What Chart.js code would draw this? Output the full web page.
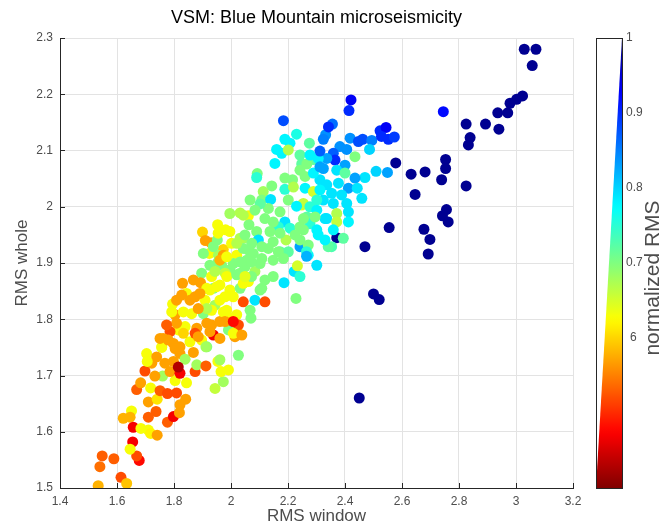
<!DOCTYPE html>
<html>
<head>
<meta charset="utf-8">
<script src="https://cdn.jsdelivr.net/npm/chart.js@4/dist/chart.umd.min.js"></script>
<style>
html,body{margin:0;padding:0;background:#fff;}
canvas{display:block;}
</style>
</head>
<body>
<canvas id="c" width="659" height="525" style="width:659px;height:525px"></canvas>
<script>
// ---- data (x = RMS window, y = RMS whole, c = normalized RMS) ----
const pointsX = [
3.029,3.070,3.057,3.023,3.002,2.979,2.971,2.936,2.825,2.893,2.940,2.839,2.833,2.578,2.632,2.681,2.753,2.753,2.739,2.825,2.646,2.756,2.742,2.762,2.555,2.677,2.698,2.692,2.371,2.470,2.500,2.520,2.450,
2.745,
2.421,2.414,2.356,2.332,2.324,2.418,2.447,2.462,2.494,2.523,2.544,2.528,2.552,2.573,2.486,2.382,2.406,2.435,2.359,2.365,2.336,2.400,2.371,2.509,2.549,2.470,2.435,2.400,2.312,2.336,2.377,2.412,2.443,2.353,2.388,2.459,2.324,2.359,2.406,2.248,2.412,2.371,2.336,2.266,2.394,2.353,2.260,
2.184,2.230,2.189,2.207,2.160,2.178,2.201,2.275,2.242,2.248,2.289,2.092,2.090,2.189,2.216,2.260,2.143,2.189,2.219,2.260,2.289,2.113,2.108,2.139,2.201,2.254,2.230,2.131,2.172,2.277,2.189,2.166,2.207,2.242,2.277,2.330,2.043,2.148,2.193,2.242,2.271,2.201,2.172,2.271,2.341,
2.265,2.301,2.265,2.222,2.242,2.186,2.233,2.228,2.026,2.014,2.020,
1.996,2.032,2.061,2.102,1.953,1.981,2.063,2.090,1.930,1.952,1.973,2.002,2.032,2.096,1.924,1.956,2.020,2.061,2.108,1.926,1.967,1.996,2.049,2.084,1.897,1.830,1.868,1.893,1.844,1.874,1.909,1.938,1.961,1.996,2.032,2.061,2.084,2.043,2.119,2.108,1.795,1.804,1.833,1.862,1.903,1.944,1.985,2.020,2.070,2.026,2.002,1.991,1.932,1.938,1.880,1.839,1.815,1.786,1.762,1.757,1.798,1.856,1.897,1.915,2.014,
1.534,1.614,1.634,1.540,1.548,1.589,1.678,1.669,1.655,1.646,1.622,1.651,1.646,1.657,1.684,1.710,1.718,1.741,1.710,1.737,1.777,1.798,1.819,1.821,1.710,1.741,1.669,1.683,1.718,1.751,1.777,1.809,1.841,1.844,1.804,1.760,1.786,1.733,1.698,1.722,1.704,1.757,1.739,1.768,1.798,1.821,1.839,1.821,1.874,1.880,1.912,1.868,1.912,1.944,1.954,
1.900,1.910,
1.815,1.706,1.751,1.804,1.961,1.973,1.991,1.965,1.792,1.926,1.961,1.973,2.008,2.038,1.961,1.932,1.874,
1.903,2.043,2.078,2.131,2.166,1.955,2.008,2.055,2.102,2.148,2.184,1.932,1.979,2.032,2.072,2.119,2.148,1.950,2.043,2.102,2.008,1.915,1.973,2.067,1.979,2.008,
2.154,2.324,2.306,2.342,2.301,2.301,2.295,2.254,2.148,2.119,2.137,2.172,2.225,2.306,2.330,
2.242,2.289,2.312,2.266,2.312,2.277,2.312,2.254,2.301,2.242,2.371,2.412,2.359,
1.955,1.996,2.020,2.049,2.073,2.108,1.938,1.961,1.985,2.032,2.072,1.944,1.985,2.020,2.049,1.915,1.891,1.856,1.827,1.809,1.885,1.979,1.915,1.809,1.774,1.833,1.885,1.926,1.961,1.780,1.821,
2.067,2.043,2.084
];
const pointsY = [
2.280,2.280,2.251,2.197,2.191,2.184,2.167,2.167,2.147,2.147,2.138,2.123,2.110,2.078,2.058,2.062,2.084,2.068,2.048,2.037,2.022,1.995,1.984,1.973,1.963,1.960,1.942,1.916,1.945,1.929,1.845,1.835,1.660,
2.169,
2.190,2.171,2.147,2.128,2.120,2.122,2.116,2.120,2.118,2.135,2.141,2.125,2.120,2.124,2.102,2.107,2.102,2.089,2.095,2.083,2.086,2.074,2.065,2.063,2.061,2.052,2.051,2.060,2.048,2.039,2.042,2.033,2.033,2.024,2.021,2.015,2.012,2.006,2.006,2.003,1.991,1.988,1.979,1.982,1.944,1.929,1.929,
2.153,2.129,2.120,2.113,2.102,2.095,2.101,2.113,2.092,2.076,2.084,2.059,2.052,2.051,2.048,2.054,2.037,2.031,2.035,2.033,2.027,2.027,2.012,2.013,2.012,2.006,2.001,1.997,1.991,2.000,1.973,1.964,1.962,1.964,1.970,1.979,1.944,1.938,1.941,1.929,1.932,1.920,1.920,1.914,1.929,
1.920,1.896,1.912,1.885,1.876,1.865,1.895,1.837,1.736,1.793,1.784,
1.988,1.989,1.984,2.005,1.968,1.959,1.968,1.956,1.936,1.941,1.924,1.935,1.944,1.941,1.917,1.914,1.914,1.923,1.908,1.896,1.896,1.888,1.893,1.885,1.882,1.864,1.870,1.865,1.846,1.840,1.834,1.855,1.861,1.852,1.855,1.867,1.834,1.831,1.831,1.855,1.827,1.808,1.813,1.810,1.810,1.825,1.816,1.808,1.802,1.790,1.802,1.781,1.790,1.772,1.784,1.787,1.781,1.778,1.766,1.751,1.757,1.760,1.763,1.751,1.769,
1.504,1.519,1.508,1.538,1.557,1.552,1.549,1.557,1.582,1.569,1.624,1.637,1.626,1.608,1.606,1.603,1.597,1.594,1.626,1.636,1.617,1.627,1.634,1.648,1.653,1.658,1.675,1.687,1.678,1.673,1.668,1.669,1.658,1.687,1.691,1.699,1.707,1.699,1.708,1.722,1.739,1.750,1.733,1.722,1.725,1.739,1.729,1.704,1.707,1.719,1.717,1.741,1.751,1.677,1.725,
1.955,1.940,
1.715,1.725,1.766,1.748,1.728,1.689,1.710,1.707,1.813,1.852,1.834,1.914,1.775,1.772,1.796,1.816,1.775,
1.917,1.926,1.917,1.926,1.920,1.902,1.899,1.905,1.899,1.905,1.908,1.876,1.882,1.882,1.876,1.870,1.876,1.858,1.864,1.852,1.840,1.819,1.813,1.816,1.796,1.796,
2.077,2.068,2.086,2.142,2.012,1.994,1.982,1.979,1.973,1.979,1.956,1.953,1.950,1.950,1.941,
2.065,2.060,2.071,2.076,2.099,2.092,2.030,1.959,1.959,1.941,1.973,1.973,1.959,
1.953,1.956,1.935,1.950,1.935,1.929,1.929,1.905,1.911,1.902,1.902,1.885,1.876,1.879,1.876,1.855,1.846,1.834,1.843,1.834,1.819,1.840,1.793,1.793,1.790,1.775,1.769,1.778,1.766,1.763,1.751,
2.012,1.985,1.994
];
const pointsC = [
0.99,0.99,0.99,0.99,0.99,0.99,0.99,0.99,0.99,0.99,0.99,0.99,0.99,0.99,0.99,0.99,0.99,0.99,0.99,0.99,0.99,0.99,0.99,0.99,0.99,0.99,0.99,0.99,0.99,0.99,0.99,0.99,0.99,
0.92,
0.93,0.90,0.86,0.84,0.85,0.84,0.88,0.88,0.85,0.90,0.93,0.90,0.90,0.89,0.80,0.84,0.84,0.70,0.87,0.90,0.83,0.83,0.79,0.80,0.83,0.79,0.83,0.72,0.79,0.79,0.79,0.83,0.79,0.79,0.79,0.79,0.79,0.79,0.79,0.65,0.79,0.67,0.79,0.72,0.72,0.73,0.79,
0.88,0.76,0.78,0.78,0.78,0.78,0.67,0.72,0.72,0.72,0.72,0.70,0.75,0.70,0.70,0.70,0.70,0.75,0.67,0.78,0.65,0.68,0.70,0.79,0.70,0.66,0.78,0.70,0.70,0.75,0.79,0.75,0.75,0.70,0.75,0.79,0.68,0.70,0.67,0.83,0.70,0.72,0.72,0.78,0.72,
0.75,0.79,0.82,0.79,0.75,0.79,0.65,0.70,0.70,0.47,0.57,
0.68,0.67,0.63,0.72,0.63,0.63,0.70,0.70,0.57,0.70,0.60,0.63,0.67,0.79,0.63,0.68,0.63,0.70,0.70,0.70,0.70,0.70,0.70,0.68,0.70,0.57,0.57,0.57,0.63,0.57,0.63,0.70,0.63,0.63,0.70,0.63,0.79,0.52,0.52,0.70,0.63,0.57,0.63,0.63,0.70,0.68,0.63,0.63,0.70,0.52,0.63,0.70,0.57,0.47,0.57,0.63,0.63,0.52,0.57,0.63,0.57,0.63,0.63,0.70,0.57,
0.58,0.52,0.59,0.54,0.53,0.53,0.48,0.52,0.47,0.63,0.58,0.63,0.58,0.47,0.63,0.63,0.62,0.57,0.53,0.53,0.53,0.47,0.57,0.57,0.57,0.61,0.53,0.57,0.63,0.53,0.52,0.52,0.57,0.63,0.63,0.68,0.57,0.57,0.52,0.57,0.63,0.63,0.57,0.57,0.57,0.57,0.68,0.47,0.52,0.68,0.53,0.57,0.68,0.66,0.63,
0.60,0.57,
0.43,0.63,0.57,0.57,0.68,0.68,0.63,0.63,0.63,0.63,0.63,0.57,0.63,0.57,0.57,0.63,0.52,
0.70,0.70,0.70,0.70,0.70,0.70,0.70,0.70,0.70,0.70,0.70,0.63,0.66,0.70,0.70,0.70,0.70,0.63,0.63,0.70,0.63,0.67,0.63,0.70,0.57,0.48,
0.78,0.83,0.78,0.90,0.75,0.78,0.70,0.70,0.70,0.70,0.70,0.70,0.70,0.78,0.78,
0.70,0.78,0.83,0.70,0.87,0.78,0.78,0.70,0.78,0.70,0.66,0.78,0.78,
0.63,0.63,0.67,0.70,0.70,0.70,0.70,0.58,0.63,0.70,0.70,0.67,0.63,0.70,0.64,0.63,0.57,0.57,0.57,0.57,0.57,0.63,0.57,0.57,0.53,0.60,0.57,0.57,0.57,0.57,0.57,
0.70,0.67,0.70
];
const xTicks = [1.4,1.6,1.8,2.0,2.2,2.4,2.6,2.8,3.0,3.2];
const xTickLabels = ['1.4','1.6','1.8','2','2.2','2.4','2.6','2.8','3','3.2'];
const yTicks = [1.5,1.6,1.7,1.8,1.9,2.0,2.1,2.2,2.3];
const yTickLabels = ['1.5','1.6','1.7','1.8','1.9','2','2.1','2.2','2.3'];
const cbTicks = [1.0,0.9,0.8,0.7,0.6];
const cbTickLabels = ['1','0.9','0.8','0.7','6'];
const cMin = 0.4, cMax = 1.0;
const titleText = 'VSM: Blue Mountain microseismicity';
const xLabel = 'RMS window';
const yLabel = 'RMS whole';
const cbLabel = 'normalized RMS';

// ---- colormap (jet, reversed so 1 = dark blue) ----
function jet(v){
  const s = Math.min(1, Math.max(0, (cMax - v)/(cMax - cMin)));
  const f = k => Math.round(255*Math.min(1, Math.max(0, 1.5 - Math.abs(4*s - k))));
  return 'rgb(' + f(3) + ',' + f(2) + ',' + f(1) + ')';
}

const FONT = '"Liberation Sans", Arial, Helvetica, sans-serif';
const pts = pointsX.map((x,i)=>({x:x, y:pointsY[i]}));
const cols = pointsC.map(jet);

const extras = {
  id:'extras',
  afterDraw(chart){
    const ctx = chart.ctx, a = chart.chartArea;
    const xs = chart.scales.x, ys = chart.scales.y;
    ctx.save();
    // inward ticks
    ctx.strokeStyle = '#262626'; ctx.lineWidth = 1;
    ctx.beginPath();
    xTicks.forEach(v=>{ const p = Math.round(xs.getPixelForValue(v))+0.5; ctx.moveTo(p, a.bottom); ctx.lineTo(p, a.bottom-5); });
    yTicks.forEach(v=>{ const p = Math.round(ys.getPixelForValue(v))+0.5; ctx.moveTo(a.left, p); ctx.lineTo(a.left+5, p); });
    ctx.stroke();
    // title
    ctx.fillStyle = '#000'; ctx.font = '18px ' + FONT; ctx.textAlign = 'center'; ctx.textBaseline = 'middle';
    ctx.fillText(titleText, (a.left+a.right)/2, 18);
    // axis labels
    ctx.fillStyle = '#4d4d4d'; ctx.font = '17px ' + FONT;
    ctx.fillText(xLabel, (a.left+a.right)/2, 516);
    ctx.save(); ctx.translate(22, (a.top+a.bottom)/2); ctx.rotate(-Math.PI/2); ctx.fillText(yLabel, 0, 0); ctx.restore();
    // colorbar
    const L = 596, R = 622, T = a.top, B = a.bottom;
    const g = ctx.createLinearGradient(0, T, 0, B);
    for (let i=0;i<=60;i++){ const v = cMax - (cMax-cMin)*i/60; g.addColorStop(i/60, jet(v)); }
    ctx.fillStyle = g;
    ctx.beginPath(); ctx.moveTo(R, T); ctx.lineTo(R, B); ctx.lineTo(L, B); ctx.closePath(); ctx.fill();
    ctx.strokeStyle = '#262626'; ctx.lineWidth = 1;
    ctx.strokeRect(L+0.5, T+0.5, R-L, B-T);
    ctx.fillStyle = '#4d4d4d'; ctx.font = '12px ' + FONT; ctx.textAlign = 'left'; ctx.textBaseline = 'middle';
    cbTicks.forEach((v,i)=>{
      const y = T + (cMax - v)/(cMax-cMin)*(B-T);
      const x = cbTickLabels[i].length === 1 && v < 1 ? 630 : 626;
      ctx.fillText(cbTickLabels[i], x, y);
    });
    ctx.font = '21px ' + FONT; ctx.textAlign = 'center'; ctx.textBaseline = 'alphabetic';
    ctx.save(); ctx.translate(659, 278); ctx.rotate(-Math.PI/2); ctx.fillText(cbLabel, 0, 0); ctx.restore();
    ctx.restore();
  }
};

new Chart(document.getElementById('c'), {
  type:'scatter',
  data:{ datasets:[{ data: pts, backgroundColor: cols, borderWidth:0, pointRadius:5.5, pointHoverRadius:5.5 }] },
  options:{
    responsive:false, animation:false, events:[],
    layout:{ padding:{ top:38, right:86, left:0, bottom:0 } },
    plugins:{ legend:{display:false}, tooltip:{enabled:false}, title:{display:false} },
    scales:{
      x:{ type:'linear', min:1.4, max:3.2,
          afterBuildTicks: s => { s.ticks = xTicks.map(v=>({value:v})); },
          afterFit: s => { s.height = 37; },
          ticks:{ autoSkip:false, maxRotation:0, padding:6, color:'#4d4d4d', font:{family:FONT, size:12},
                  callback:(v,i)=> xTickLabels[i] },
          grid:{ color:'#e3e3e3', drawTicks:false }, border:{ color:'#262626' } },
      y:{ type:'linear', min:1.5, max:2.3,
          afterBuildTicks: s => { s.ticks = yTicks.map(v=>({value:v})); },
          afterFit: s => { s.width = 60; },
          ticks:{ autoSkip:false, padding:7, color:'#4d4d4d', font:{family:FONT, size:12},
                  callback:(v,i)=> yTickLabels[i] },
          grid:{ color:'#e3e3e3', drawTicks:false }, border:{ color:'#262626' } }
    }
  },
  plugins:[extras]
});
</script>
</body>
</html>
